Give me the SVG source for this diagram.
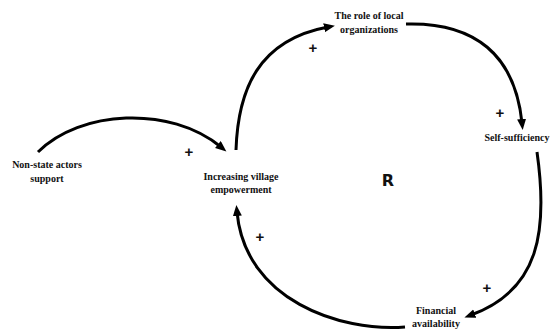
<svg xmlns="http://www.w3.org/2000/svg" width="557" height="331" viewBox="0 0 557 331">
  <style>
    .lbl { font-family: "Liberation Serif", "Times New Roman", serif; font-weight: bold; font-size: 10px; fill: #111; text-anchor: middle; }
    .sign { font-family: "Liberation Sans", Arial, sans-serif; font-weight: bold; font-size: 15px; fill: #111; text-anchor: middle; }
    .loop { font-family: "DejaVu Sans", Verdana, sans-serif; font-weight: bold; font-size: 16px; fill: #111; text-anchor: middle; }
    .link { fill: none; stroke: #000; stroke-width: 3; marker-end: url(#head); }
  </style>
  <defs>
    <marker id="head" markerUnits="userSpaceOnUse" markerWidth="12" markerHeight="10" refX="4" refY="4.5" orient="auto">
      <path d="M0,0 L11,4.5 L0,9 z" fill="#000"/>
    </marker>
  </defs>
  <rect width="557" height="331" fill="#fff"/>

  <g id="connectors">
    <path class="link" d="M38,152 C80,110 170,105 221,147"/>
    <path class="link" d="M236,150 C238,90 258,40 328,27"/>
    <path class="link" d="M406,24 C475,22 515,55 522,123"/>
    <path class="link" d="M537,152 C548,230 540,290 471,315"/>
    <path class="link" d="M405,327 C340,332 245,300 237,212"/>
  </g>

  <g id="polarities">
    <text class="sign" x="189" y="157">+</text>
    <text class="sign" x="313" y="53">+</text>
    <text class="sign" x="500" y="118">+</text>
    <text class="sign" x="487" y="293">+</text>
    <text class="sign" x="260" y="242">+</text>
  </g>

  <g id="node-nonstate">
    <text class="lbl" x="47" y="168">Non-state actors</text>
    <text class="lbl" x="47" y="182">support</text>
  </g>
  <g id="node-empowerment">
    <text class="lbl" x="241" y="180">Increasing village</text>
    <text class="lbl" x="241" y="193">empowerment</text>
  </g>
  <g id="node-organizations">
    <text class="lbl" x="369" y="19">The role of local</text>
    <text class="lbl" x="369" y="33">organizations</text>
  </g>
  <g id="node-selfsufficiency">
    <text class="lbl" x="517" y="141">Self-sufficiency</text>
  </g>
  <g id="node-financial">
    <text class="lbl" x="436" y="314">Financial</text>
    <text class="lbl" x="436" y="327">availability</text>
  </g>

  <g id="loop-label">
    <text class="loop" x="388" y="186">R</text>
  </g>
</svg>
